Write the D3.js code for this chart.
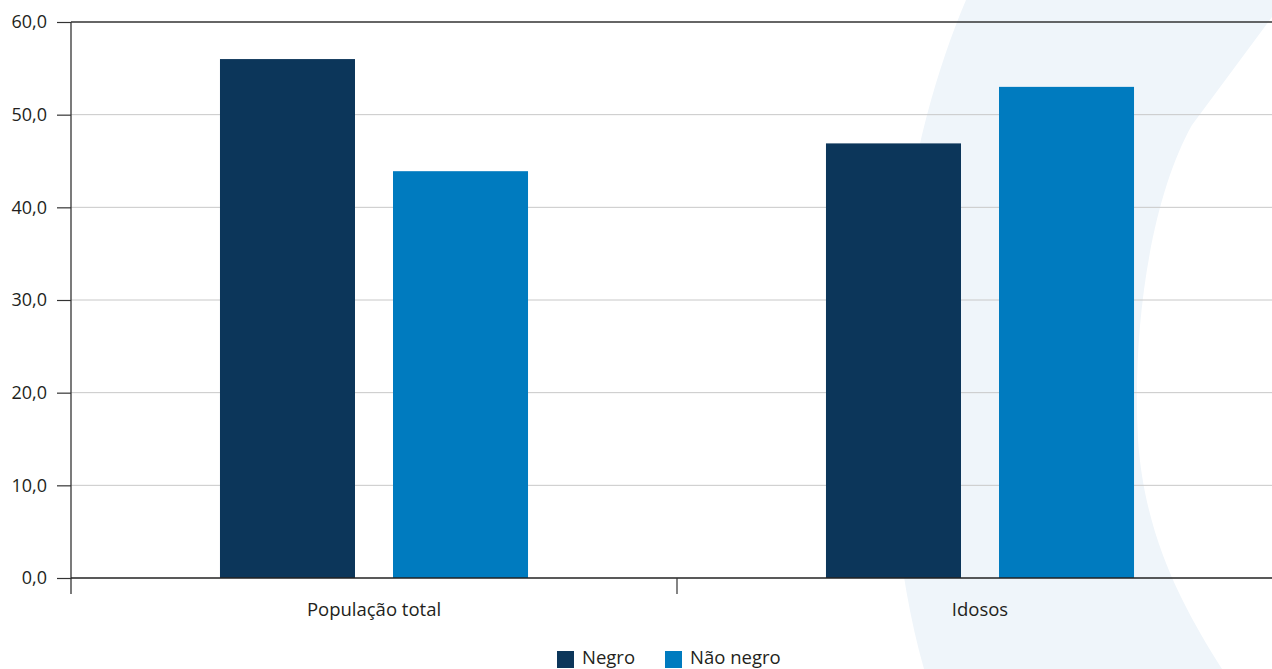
<!DOCTYPE html>
<html>
<head>
<meta charset="utf-8">
<script src="https://cdn.jsdelivr.net/npm/d3@7"></script>
<style>
  html, body { margin: 0; padding: 0; background: #ffffff; }
  svg { display: block; }
  text { font-family: "Open Sans", "Noto Sans", sans-serif; fill: #231f20; }
</style>
</head>
<body>
<svg id="chart" width="1272" height="669"></svg>
<script>
// ---- data ----
const categories = ["População total", "Idosos"];
const seriesNames = ["Negro", "Não negro"];
const negro = [56.0, 46.9];
const naoNegro = [43.9, 53.0];
const yTicks = [0, 10, 20, 30, 40, 50, 60];
const colors = ["#0c365a", "#007bbf"];

(function () {
const W = 1272, H = 669;
const svg = d3.select("#chart");

// background decorative shape
const bg = d3.path();
bg.moveTo(966, 0);
bg.lineTo(1272, 0);
bg.lineTo(1272, 17);
bg.lineTo(1192, 125);
bg.bezierCurveTo(1150, 200, 1132, 330, 1138, 440);
bg.bezierCurveTo(1145, 540, 1185, 610, 1222, 669);
bg.lineTo(924, 669);
bg.bezierCurveTo(893, 560, 884, 420, 896, 300);
bg.bezierCurveTo(906, 180, 932, 80, 966, 0);
bg.closePath();
svg.append("path").attr("d", bg.toString()).attr("fill", "#eff5fa");

const mLeft = 71, mTop = 22, mBottom = 578;
const x0 = d3.scaleBand().domain(categories).range([mLeft, mLeft + 2 * 606]).padding(0);
const x1 = d3.scaleBand().domain(seriesNames).range([0, x0.bandwidth()])
  .paddingInner(38 / 173).paddingOuter(0.861);
const y = d3.scaleLinear().domain([0, 60]).range([mBottom, mTop]);

// gridlines
svg.append("g").selectAll("line").data(yTicks.filter(d => d > 0 && d < 60)).join("line")
  .attr("x1", mLeft).attr("x2", W).attr("y1", d => y(d)).attr("y2", d => y(d))
  .attr("stroke", "#c8c8c8").attr("stroke-width", 1);
// top line
svg.append("line").attr("x1", mLeft).attr("x2", W).attr("y1", y(60)).attr("y2", y(60))
  .attr("stroke", "#333").attr("stroke-width", 1.3);

// bars
const rows = categories.map((c, i) => ({ cat: c, vals: [negro[i], naoNegro[i]] }));
svg.append("g").selectAll("g").data(rows).join("g")
  .attr("transform", d => `translate(${x0(d.cat)},0)`)
  .selectAll("rect").data(d => d.vals.map((v, j) => ({ s: seriesNames[j], v, j }))).join("rect")
  .attr("x", d => x1(d.s)).attr("width", x1.bandwidth())
  .attr("y", d => y(d.v)).attr("height", d => y(0) - y(d.v))
  .attr("fill", d => colors[d.j]);

// y axis
const yAxis = d3.axisLeft(y).tickValues(yTicks).tickSize(14).tickPadding(10)
  .tickFormat(d => d3.format(".1f")(d).replace(".", ","));
const gy = svg.append("g").attr("transform", `translate(${mLeft},0)`).call(yAxis);
gy.select(".domain").remove();
gy.selectAll(".tick line").attr("stroke", "#333").attr("stroke-width", 1.2);
gy.selectAll(".tick text").style("font-size", "18px").style("font-family", "'Open Sans', sans-serif").attr("fill", "#231f20");
svg.append("line").attr("x1", mLeft).attr("x2", mLeft).attr("y1", mTop).attr("y2", mBottom + 16)
  .attr("stroke", "#333").attr("stroke-width", 1.3);

// x axis
const gx = svg.append("g").attr("transform", `translate(0,${mBottom})`);
gx.append("line").attr("x1", mLeft).attr("x2", W).attr("y1", 0).attr("y2", 0)
  .attr("stroke", "#222").attr("stroke-width", 1.3);
gx.selectAll("line.sep").data(categories.slice(1)).join("line").attr("class", "sep")
  .attr("x1", d => x0(d)).attr("x2", d => x0(d)).attr("y1", 0).attr("y2", 16)
  .attr("stroke", "#333").attr("stroke-width", 1.2);
gx.selectAll("text").data(categories).join("text")
  .attr("x", d => x0(d) + x0.bandwidth() / 2).attr("y", 38)
  .attr("text-anchor", "middle").style("font-size", "18.5px").text(d => d);

// legend
const lg = svg.append("g");
const legendX = [557, 665];
seriesNames.forEach((s, i) => {
  lg.append("rect").attr("x", legendX[i]).attr("y", 651).attr("width", 17).attr("height", 17).attr("fill", colors[i]);
  lg.append("text").attr("x", legendX[i] + 25).attr("y", 664).style("font-size", "18.5px").text(s);
});
})();
</script>
</body>
</html>
